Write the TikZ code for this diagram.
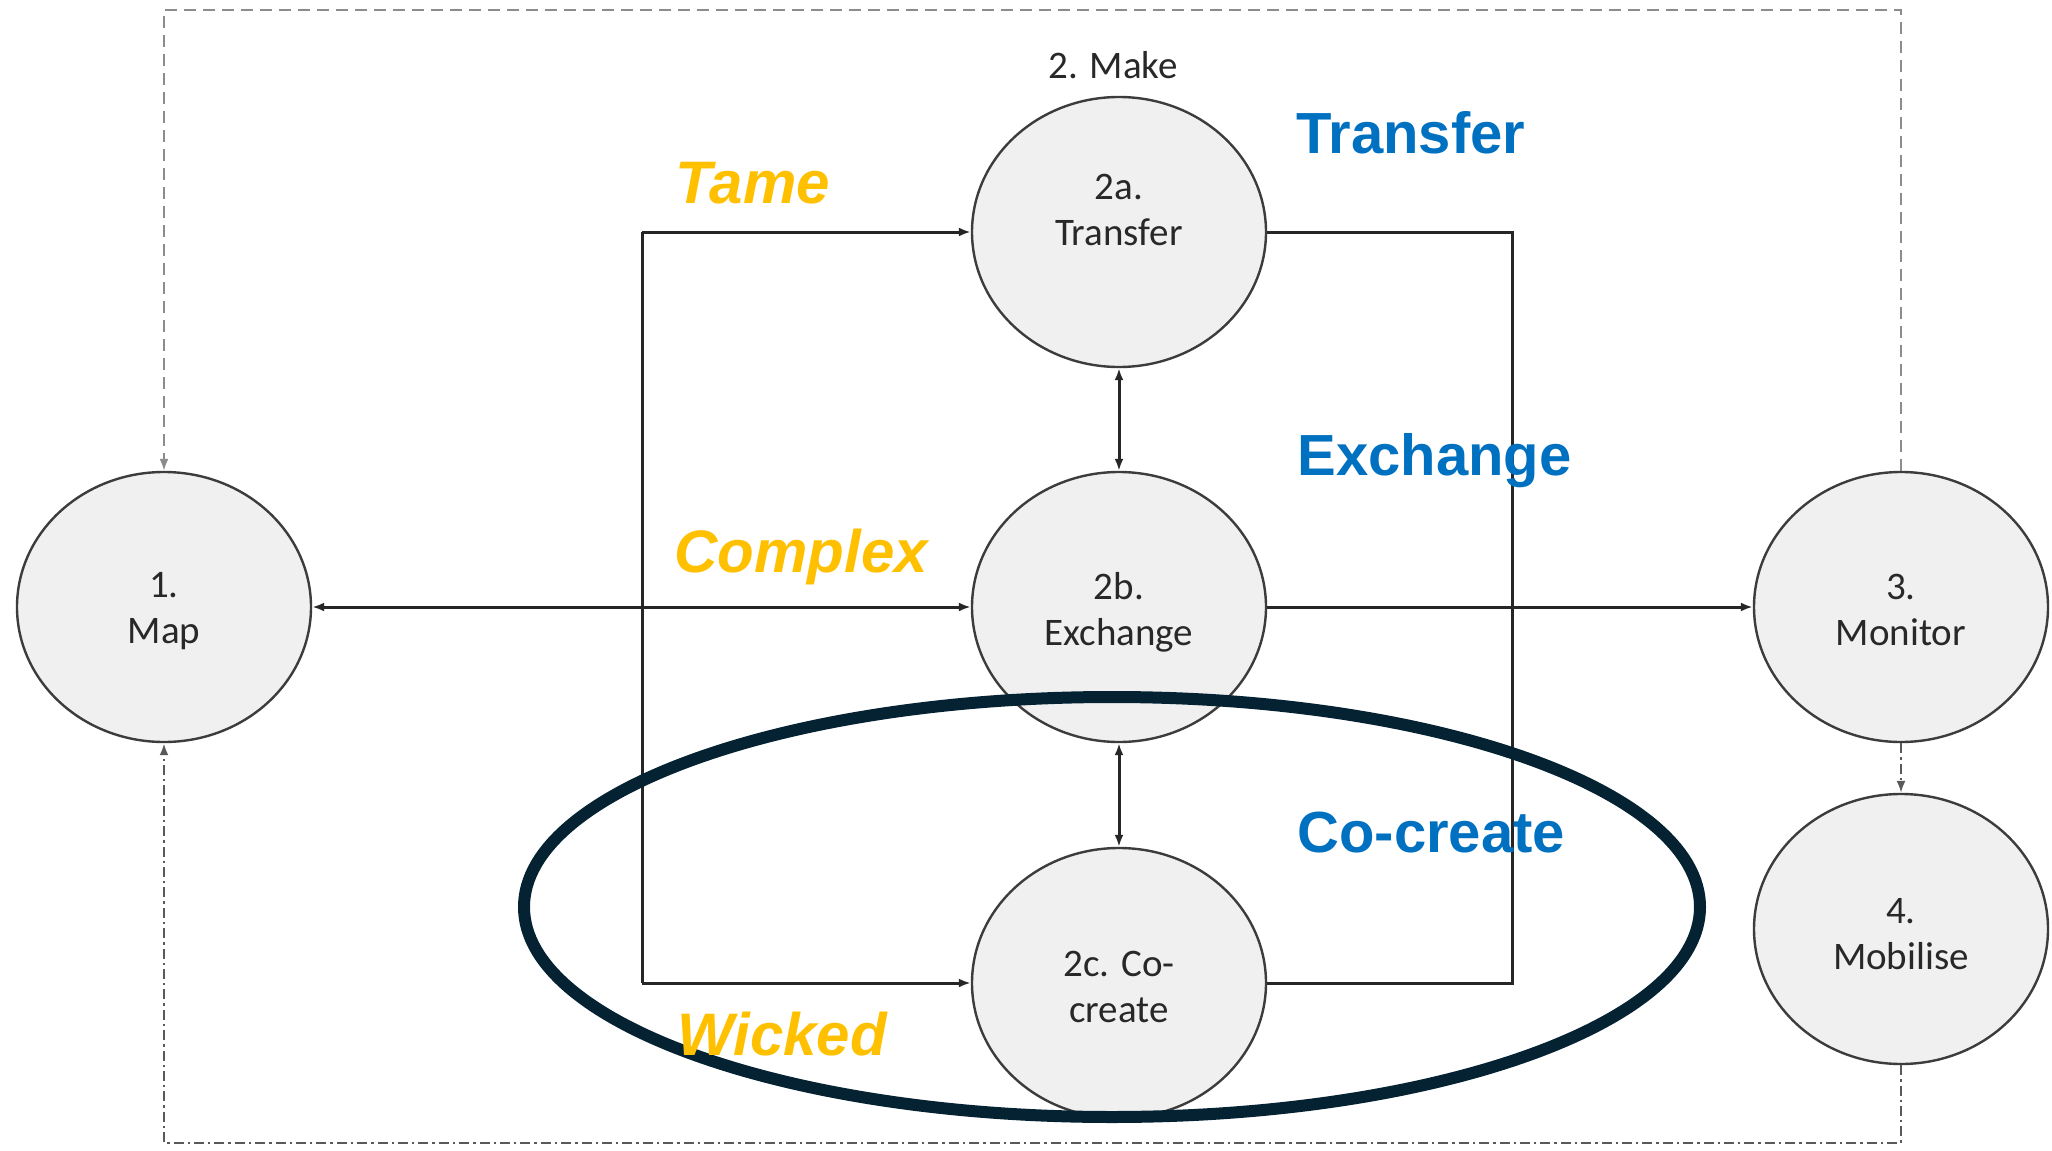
\documentclass[tikz,border=0pt]{standalone}
\usepackage{fontspec}
\setmainfont{Carlito}
\newfontfamily\labfont{Liberation Sans}
\usetikzlibrary{shapes.geometric,arrows.meta}
\definecolor{navy}{RGB}{5,34,51}
\definecolor{tamecol}{RGB}{255,192,0}
\definecolor{bluecol}{RGB}{0,112,192}
\definecolor{circfill}{RGB}{240,240,240}
\definecolor{circline}{RGB}{60,60,60}
\definecolor{txtcol}{RGB}{40,40,40}
\definecolor{linecol}{RGB}{38,38,38}
\begin{document}
\begin{tikzpicture}[x=0.5pt,y=-0.5pt,
  stage/.style={ellipse, draw=circline, line width=1.2pt, fill=circfill, minimum width=147pt, minimum height=135pt, inner sep=0pt},
  stagetext/.style={align=center, text=txtcol, font=\fontsize{19.5pt}{23pt}\selectfont, inner sep=0pt},
  conn/.style={draw=linecol, line width=1.5pt},
  arr/.style={-{Latex[length=6pt,width=4.5pt]}},
  darr/.style={{Latex[length=6pt,width=4.5pt]}-{Latex[length=6pt,width=4.5pt]}},
  topdash/.style={draw=black!45, line width=1pt, dash pattern=on 6pt off 3.5pt},
  dashdot/.style={draw=black!65, line width=1.3pt, dash pattern=on 5pt off 2pt on 1.2pt off 2pt},
  problab/.style={font=\labfont\bfseries\itshape\fontsize{30pt}{36pt}\selectfont, text=tamecol, anchor=base west, inner sep=0pt},
  modelab/.style={font=\labfont\bfseries\fontsize{29pt}{35pt}\selectfont, text=bluecol, anchor=base west, inner sep=0pt}]
\useasboundingbox (0,0) rectangle (2052,1151);
\fill[white] (0,0) rectangle (2052,1151);

% stages
\node[stage, label={[stagetext,name=maptxt,yshift=-2pt]center:{1.\\Map}}] (map) at (164,607) {};
\node[stage, label={[stagetext,name=transtxt,yshift=11pt]center:{2a.\\Transfer}}] (trans) at (1119,232) {};
\node[stage, label={[stagetext,name=exchtxt,yshift=-2.5pt]center:{2b.\\Exchange}}] (exch) at (1119,607) {};
\node[stage, label={[stagetext,name=cocrtxt,yshift=-2pt]center:{2c. Co-\\create}}] (cocr) at (1119,983) {};
\node[stage, label={[stagetext,name=montxt,yshift=-1.5pt]center:{3.\\Monitor}}] (mon) at (1901,607) {};
\node[stage, label={[stagetext,name=mobtxt,yshift=-2.5pt]center:{4.\\Mobilise}}] (mob) at (1901,929) {};
\node[stagetext] (make) at (1113,65) {2. Make};

% bracket and frame points
\coordinate (lt) at (642,232);
\coordinate (lb) at (642,983);
\coordinate (rt) at (1512,232);
\coordinate (rb) at (1512,983);
\coordinate (ftl) at (164,10);
\coordinate (ftr) at (1901,10);
\coordinate (fbl) at (164,1143);
\coordinate (fbr) at (1901,1143);

% connectors
\draw[conn,darr] (map) -- (exch);
\draw[conn] (lb) -- (lt);
\draw[conn,arr] (lt) -- (trans);
\draw[conn,arr] (lb) -- (cocr);
\draw[conn] (trans) -- (rt) -- (rb) -- (cocr);
\draw[conn,arr] (exch) -- (mon);
\draw[conn,darr] (trans) -- (exch);
\draw[conn,darr] (exch) -- (cocr);
\draw[topdash,arr] (mon) -- (ftr) -- (ftl) -- (map);
\draw[dashdot,arr] (mob) -- (fbr) -- (fbl) -- (map);
\draw[dashdot,arr,line width=1pt] (mon) -- (mob);

% highlight ellipse
\draw[navy, line width=6pt] (1112,907) ellipse [x radius=294pt, y radius=105pt];

% labels
\node[problab] (tame) at (675,203) {Tame};
\node[problab] (complex) at (674,572) {Complex};
\node[problab] (wicked) at (677,1055) {Wicked};
\node[modelab] (mtransfer) at (1296,153) {Transfer};
\node[modelab] (mexchange) at (1297,475) {Exchange};
\node[modelab] (mcocreate) at (1297,852) {Co-create};
\end{tikzpicture}
\end{document}
